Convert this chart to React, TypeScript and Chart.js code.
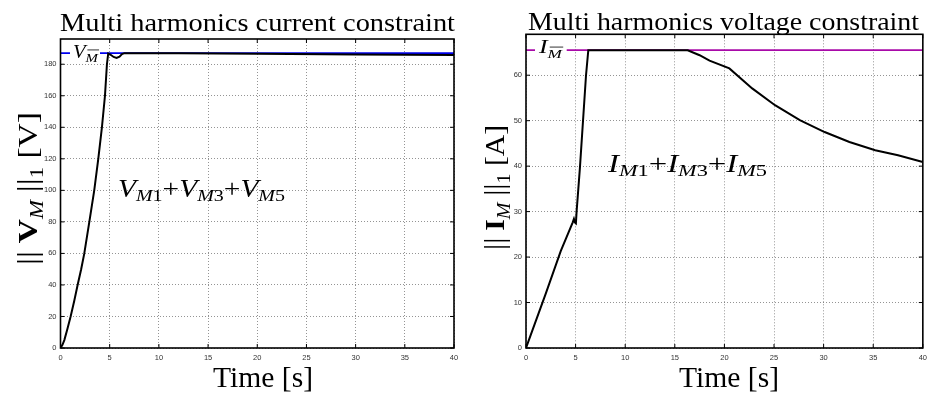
import React, { useEffect, useRef } from "react";
import { Chart, registerables } from "chart.js";

Chart.register(...registerables);

// ---- data -------------------------------------------------------------
const timeTicks = [0, 5, 10, 15, 20, 25, 30, 35, 40];
const voltTicks = [0, 20, 40, 60, 80, 100, 120, 140, 160, 180];
const currTicks = [0, 10, 20, 30, 40, 50, 60];

// Voltage norm under the current constraint
const voltTime = [0, 0.2, 0.39, 0.7, 1.03, 1.4, 1.74, 2.1, 2.42, 2.93, 3.43, 3.84, 4.21, 4.52, 4.72, 4.85, 5.1, 5.4, 5.7, 6.0, 6.25, 6.5, 8, 12, 20, 30, 40];
const voltValue = [0, 2, 5, 12, 20, 30, 40, 50, 60, 80, 100, 120, 140, 160, 180, 186.8, 186, 184.6, 184, 184.8, 186.4, 187, 187, 186.9, 186.6, 186.2, 185.8];
const voltLimit = 187;

// Current norm under the voltage constraint
const currTime = [0, 2, 3.5, 4.7, 4.83, 4.93, 5.03, 5.1, 5.44, 6.05, 6.28, 10, 16.3, 17.5, 18.5, 20.5, 22.8, 25.1, 27.6, 30.1, 32.6, 35.2, 37.5, 40];
const currValue = [0, 12, 21.3, 27.6, 28.4, 27.6, 27.4, 30, 39.8, 60, 65.5, 65.5, 65.5, 64.4, 63.2, 61.5, 57.1, 53.4, 50.1, 47.5, 45.3, 43.5, 42.4, 40.9];
const currLimit = 65.5;

// ---- text helpers -------------------------------------------------------
const SERIF = '"Liberation Serif", "DejaVu Serif", serif';
const SANS = '"Liberation Sans", Arial, Helvetica, sans-serif';

type Run = { t: string; size: number; italic?: boolean; bold?: boolean; shift?: number; bar?: boolean; family?: string };

const fontOf = (r: Run) => `${r.italic ? "italic " : ""}${r.bold ? "bold " : ""}${r.size}px ${r.family ?? SERIF}`;

function drawRuns(
  ctx: CanvasRenderingContext2D,
  runs: Run[],
  x: number,
  y: number,
  width: number,
  align: "left" | "center" = "left",
  angle = 0
) {
  ctx.save();
  ctx.translate(x, y);
  if (angle) ctx.rotate(angle);
  let natural = 0;
  const widths = runs.map((r) => {
    ctx.font = fontOf(r);
    const w = ctx.measureText(r.t).width;
    natural += w;
    return w;
  });
  ctx.scale(width / natural, 1);
  let cx = align === "center" ? -natural / 2 : 0;
  ctx.fillStyle = "#000";
  ctx.textBaseline = "alphabetic";
  ctx.textAlign = "left";
  runs.forEach((r, i) => {
    ctx.font = fontOf(r);
    const dy = r.shift ?? 0;
    ctx.fillText(r.t, cx, dy);
    if (r.bar) {
      ctx.fillRect(cx + r.size * 0.12, dy - r.size * 0.92, widths[i] - r.size * 0.05, Math.max(0.8, r.size * 0.06));
    }
    cx += widths[i];
  });
  ctx.restore();
}

const sumRuns = (sym: string): Run[] => {
  const out: Run[] = [];
  ["1", "3", "5"].forEach((k, i) => {
    if (i > 0) out.push({ t: "+", size: 25 });
    out.push({ t: sym, size: 25, italic: true });
    out.push({ t: "M", size: 17, italic: true, shift: 4 });
    out.push({ t: k, size: 17, shift: 4 });
  });
  return out;
};

// norm bars drawn as a pair of thin vertical strokes
const normRuns = (sym: string, unit: string): Run[] => [
  { t: "||", size: 29 },
  { t: " ", size: 26 },
  { t: sym, size: 28, bold: true },
  { t: "M", size: 19, italic: true, shift: 6 },
  { t: " ", size: 26 },
  { t: "||", size: 29 },
  { t: "1", size: 19, shift: 6 },
  { t: ` [${unit}]`, size: 28 },
];

// ---- panel setup ----------------------------------------------------------
const W = 466;
const H = 396;
const PLOT_BOTTOM = 348;

interface PanelSpec {
  time: number[];
  values: number[];
  limit: number;
  limitColor: string;
  yMax: number;
  yTicks: number[];
  left: number;
  right: number;
  top: number;
  title: string;
  titlePos: [number, number, number];
  yLabel: Run[];
  yLabelPos: [number, number, number];
  sum: Run[];
  sumPos: [number, number, number];
  limitRuns: Run[];
  limitPos: [number, number, number];
  limitGap: [number, number];
}

const panels: PanelSpec[] = [
  {
    time: voltTime,
    values: voltValue,
    limit: voltLimit,
    limitColor: "#0000f0",
    yMax: 196,
    yTicks: voltTicks,
    left: 60.5,
    right: 454,
    top: 39,
    title: "Multi harmonics current constraint",
    titlePos: [60, 30.5, 395],
    yLabel: normRuns("V", "V"),
    yLabelPos: [36.5, 188.5, 153],
    sum: sumRuns("V"),
    sumPos: [118, 197, 167],
    limitRuns: [
      { t: "V", size: 18, italic: true },
      { t: "M", size: 13, italic: true, shift: 4, bar: true },
    ],
    limitPos: [73, 57.5, 25],
    limitGap: [70, 100],
  },
  {
    time: currTime,
    values: currValue,
    limit: currLimit,
    limitColor: "#a80aa8",
    yMax: 69,
    yTicks: currTicks,
    left: 60,
    right: 457.3,
    top: 34.3,
    title: "Multi harmonics voltage constraint",
    titlePos: [62, 29.5, 391],
    yLabel: normRuns("I", "A"),
    yLabelPos: [38, 187.5, 125],
    sum: sumRuns("I"),
    sumPos: [142, 172, 159],
    limitRuns: [
      { t: "I", size: 18, italic: true },
      { t: "M", size: 12, italic: true, shift: 5, bar: true },
    ],
    limitPos: [73, 52.7, 23],
    limitGap: [69, 100.7],
  },
];

function decorations(spec: PanelSpec) {
  return {
    id: "panelDecor",
    afterDraw(chart: Chart) {
      const { ctx, chartArea: a } = chart;
      const xs = chart.scales.x;
      const ys = chart.scales.y;
      ctx.save();

      // inward tick marks on all four sides
      ctx.strokeStyle = "#000";
      ctx.lineWidth = 1;
      ctx.beginPath();
      timeTicks.forEach((v) => {
        const px = xs.getPixelForValue(v);
        ctx.moveTo(px, a.bottom);
        ctx.lineTo(px, a.bottom - 4);
        ctx.moveTo(px, a.top);
        ctx.lineTo(px, a.top + 4);
      });
      spec.yTicks.forEach((v) => {
        const py = ys.getPixelForValue(v);
        ctx.moveTo(a.left, py);
        ctx.lineTo(a.left + 4, py);
        ctx.moveTo(a.right, py);
        ctx.lineTo(a.right - 4, py);
      });
      ctx.stroke();

      // axes box
      ctx.lineWidth = 1.6;
      ctx.strokeRect(a.left, a.top, a.right - a.left, a.bottom - a.top);

      // label on the constraint line
      const ly = ys.getPixelForValue(spec.limit);
      ctx.fillStyle = "#fff";
      ctx.fillRect(spec.limitGap[0], ly - 2, spec.limitGap[1] - spec.limitGap[0], 4);
      drawRuns(ctx, spec.limitRuns, spec.limitPos[0], spec.limitPos[1], spec.limitPos[2]);

      // curve annotation
      drawRuns(ctx, spec.sum, spec.sumPos[0], spec.sumPos[1], spec.sumPos[2]);

      // title
      drawRuns(ctx, [{ t: spec.title, size: 25 }], spec.titlePos[0], spec.titlePos[1], spec.titlePos[2]);

      // axis titles
      drawRuns(ctx, [{ t: "Time [s]", size: 29 }], 213, 387, 100);
      drawRuns(ctx, spec.yLabel, spec.yLabelPos[0], spec.yLabelPos[1], spec.yLabelPos[2], "center", -Math.PI / 2);

      ctx.restore();
    },
  };
}

function Panel({ spec }: { spec: PanelSpec }) {
  const ref = useRef<HTMLCanvasElement | null>(null);

  useEffect(() => {
    if (!ref.current) return;
    const grid = { color: "rgba(0,0,0,0.42)", lineWidth: 1, drawTicks: false };
    const border = { display: false, dash: [1, 2] };
    const tickFont = { family: SANS, size: 7.5 };
    const chart = new Chart(ref.current, {
      type: "line",
      data: {
        datasets: [
          {
            data: spec.time.map((t, i) => ({ x: t, y: spec.values[i] })),
            borderColor: "#000",
            borderWidth: 2,
            pointRadius: 0,
            tension: 0,
            order: 0,
          },
          {
            data: [
              { x: 0, y: spec.limit },
              { x: 40, y: spec.limit },
            ],
            borderColor: spec.limitColor,
            borderWidth: 1.7,
            pointRadius: 0,
            order: 1,
          },
        ],
      },
      options: {
        animation: false,
        responsive: false,
        devicePixelRatio: 1,
        events: [],
        layout: { padding: { left: 0, top: spec.top, right: W - spec.right, bottom: 0 } },
        plugins: { legend: { display: false }, tooltip: { enabled: false }, title: { display: false } },
        scales: {
          x: {
            type: "linear",
            min: 0,
            max: 40,
            grid,
            border,
            ticks: { font: tickFont, color: "#333", padding: 5, maxRotation: 0 },
            afterBuildTicks: (s: any) => {
              s.ticks = timeTicks.map((v) => ({ value: v }));
            },
            afterFit: (s: any) => {
              s.height = H - PLOT_BOTTOM;
            },
          },
          y: {
            type: "linear",
            min: 0,
            max: spec.yMax,
            grid,
            border,
            ticks: { font: tickFont, color: "#333", padding: 4 },
            afterBuildTicks: (s: any) => {
              s.ticks = spec.yTicks.map((v) => ({ value: v }));
            },
            afterFit: (s: any) => {
              s.width = spec.left;
            },
          },
        },
      } as any,
      plugins: [decorations(spec)],
    });
    return () => chart.destroy();
  }, [spec]);

  return <canvas ref={ref} width={W} height={H} style={{ display: "block", width: W, height: H }} />;
}

export default function App() {
  return (
    <div style={{ position: "fixed", left: 0, top: 0, width: 932, height: 396, display: "flex", background: "#fff" }}>
      {panels.map((p, i) => (
        <Panel key={i} spec={p} />
      ))}
    </div>
  );
}
